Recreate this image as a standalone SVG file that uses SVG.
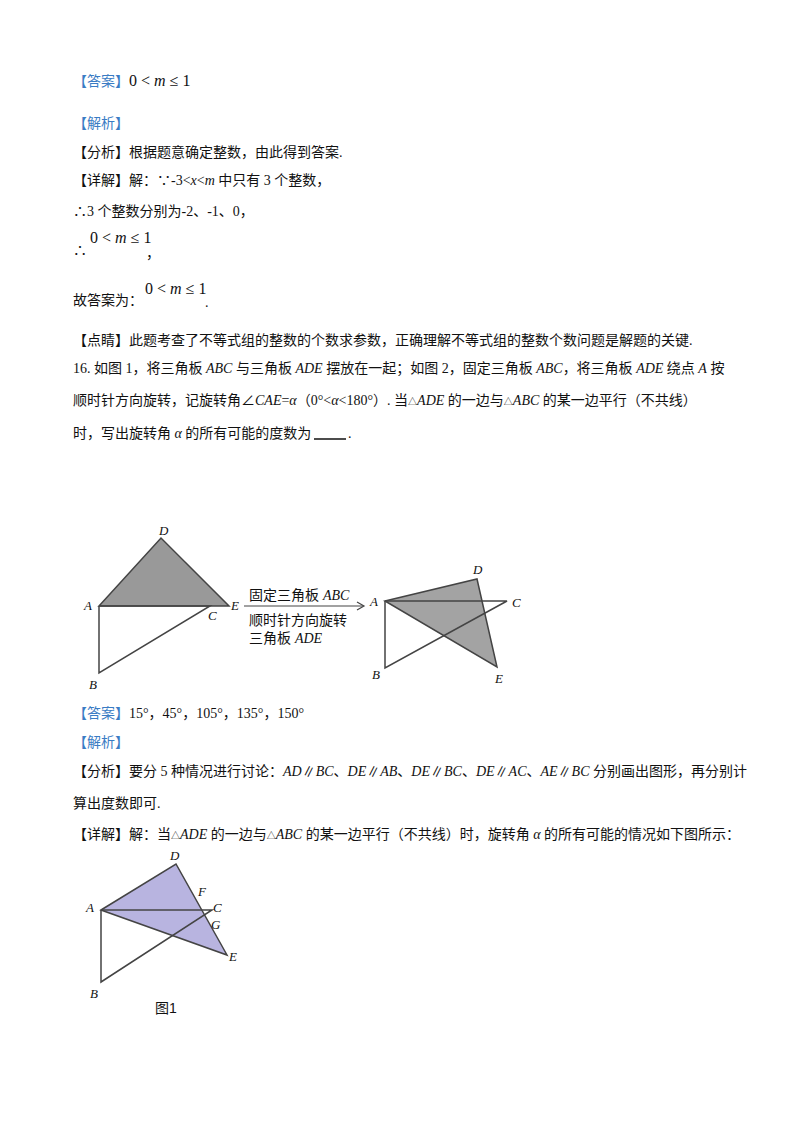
<svg xmlns="http://www.w3.org/2000/svg" width="800" height="1132" viewBox="0 0 800 1132">
<style>
text{font-family:"Liberation Serif","Noto Sans CJK SC",serif;font-size:14px;fill:#111}
.b{fill:#3a7cc4}
.i{font-style:italic}
.m{font-size:16px}
.s{font-family:"Liberation Sans","Noto Sans CJK SC",sans-serif;font-size:14px}
.l{font-style:italic;font-size:13px}
.ln{stroke:#444;stroke-width:1.5;fill:none}
</style>
<rect width="800" height="1132" fill="#fff"/>
<g id="text1">
<text x="73" y="86"><tspan class="b">【答案】</tspan><tspan class="m">0 &lt; </tspan><tspan class="m i">m</tspan><tspan class="m"> ≤ 1</tspan></text>
<text x="73" y="128" class="b">【解析】</text>
<text x="73" y="157">【分析】根据题意确定整数，由此得到答案.</text>
<text x="73" y="185">【详解】解：∵-3&lt;<tspan class="i">x</tspan>&lt;<tspan class="i">m</tspan> 中只有 3 个整数，</text>
<text x="73" y="216">∴3 个整数分别为-2、-1、0，</text>
<text x="73" y="255">∴</text>
<text x="90" y="243" class="m">0 &lt; <tspan class="i">m</tspan> ≤ 1</text>
<text x="146" y="258">，</text>
<text x="73" y="305">故答案为：</text>
<text x="145" y="294" class="m">0 &lt; <tspan class="i">m</tspan> ≤ 1</text>
<text x="205" y="307">.</text>
<text x="73" y="345">【点睛】此题考查了不等式组的整数的个数求参数，正确理解不等式组的整数个数问题是解题的关键.</text>
<text x="73" y="373">16. 如图 1，将三角板 <tspan class="i">ABC</tspan> 与三角板 <tspan class="i">ADE</tspan> 摆放在一起；如图 2，固定三角板 <tspan class="i">ABC</tspan>，将三角板 <tspan class="i">ADE</tspan> 绕点 <tspan class="i">A</tspan> 按</text>
<text x="73" y="405">顺时针方向旋转，记旋转角∠<tspan class="i">CAE</tspan>=<tspan class="i">α</tspan>（0°&lt;<tspan class="i">α</tspan>&lt;180°）. 当<tspan font-size="9">△</tspan><tspan class="i">ADE</tspan> 的一边与<tspan font-size="9">△</tspan><tspan class="i">ABC</tspan> 的某一边平行（不共线）</text>
<text x="73" y="438">时，写出旋转角 <tspan class="i">α</tspan> 的所有可能的度数为</text>
<line x1="314" y1="439" x2="346" y2="439" stroke="#111" stroke-width="1.5"/>
<text x="348" y="438">.</text>
</g>
<g id="fig1">
<polygon points="99,606 161,538 229,606" fill="#999"/>
<polygon points="99,606 161,538 229,606" class="ln"/>
<polyline points="99,606 99,673 210,606 99,606" class="ln"/>
<text x="159" y="535" class="l">D</text>
<text x="84" y="610" class="l">A</text>
<text x="208" y="620" class="l">C</text>
<text x="231" y="610" class="l">E</text>
<text x="89" y="689" class="l">B</text>
</g>
<g id="connectors">
<line x1="244" y1="606" x2="363" y2="606" stroke="#444" stroke-width="1.2"/>
<polyline points="357,602 364,606 357,610" fill="none" stroke="#444" stroke-width="1.2"/>
</g>
<g id="arrowlabel">
<text x="249" y="600" class="s">固定三角板 <tspan class="i" font-family="Liberation Serif">ABC</tspan></text>
<text x="249" y="625" class="s">顺时针方向旋转</text>
<text x="249" y="643" class="s">三角板 <tspan class="i" font-family="Liberation Serif">ADE</tspan></text>
</g>
<g id="fig2">
<polygon points="385,601 477,579 497,667" fill="#999" fill-opacity="0.9"/>
<polygon points="385,601 477,579 497,667" class="ln"/>
<polyline points="385,601 507,601 385,668 385,601" class="ln"/>
<text x="473" y="574" class="l">D</text>
<text x="370" y="606" class="l">A</text>
<text x="512" y="607" class="l">C</text>
<text x="372" y="679" class="l">B</text>
<text x="495" y="683" class="l">E</text>
</g>
<g id="text2">
<text x="73" y="718"><tspan class="b">【答案】</tspan>15°，45°，105°，135°，150°</text>
<text x="73" y="747" class="b">【解析】</text>
<text x="73" y="776">【分析】要分 5 种情况进行讨论：<tspan class="i">AD</tspan>∥<tspan class="i">BC</tspan>、<tspan class="i">DE</tspan>∥<tspan class="i">AB</tspan>、<tspan class="i">DE</tspan>∥<tspan class="i">BC</tspan>、<tspan class="i">DE</tspan>∥<tspan class="i">AC</tspan>、<tspan class="i">AE</tspan>∥<tspan class="i">BC</tspan> 分别画出图形，再分别计</text>
<text x="73" y="808">算出度数即可.</text>
<text x="73" y="839">【详解】解：当<tspan font-size="9">△</tspan><tspan class="i">ADE</tspan> 的一边与<tspan font-size="9">△</tspan><tspan class="i">ABC</tspan> 的某一边平行（不共线）时，旋转角 <tspan class="i">α</tspan> 的所有可能的情况如下图所示：</text>
</g>
<g id="fig3">
<polygon points="101,910 176,864 227,955" fill="#b8b4e0"/>
<polygon points="101,910 176,864 227,955" class="ln"/>
<polyline points="101,910 212,910 101,982 101,910" class="ln"/>
<text x="170" y="860" class="l">D</text>
<text x="86" y="912" class="l">A</text>
<text x="198" y="896" class="l">F</text>
<text x="213" y="912" class="l">C</text>
<text x="211" y="929" class="l">G</text>
<text x="229" y="961" class="l">E</text>
<text x="90" y="998" class="l">B</text>
<text x="155" y="1013" class="s">图1</text>
</g>
</svg>
